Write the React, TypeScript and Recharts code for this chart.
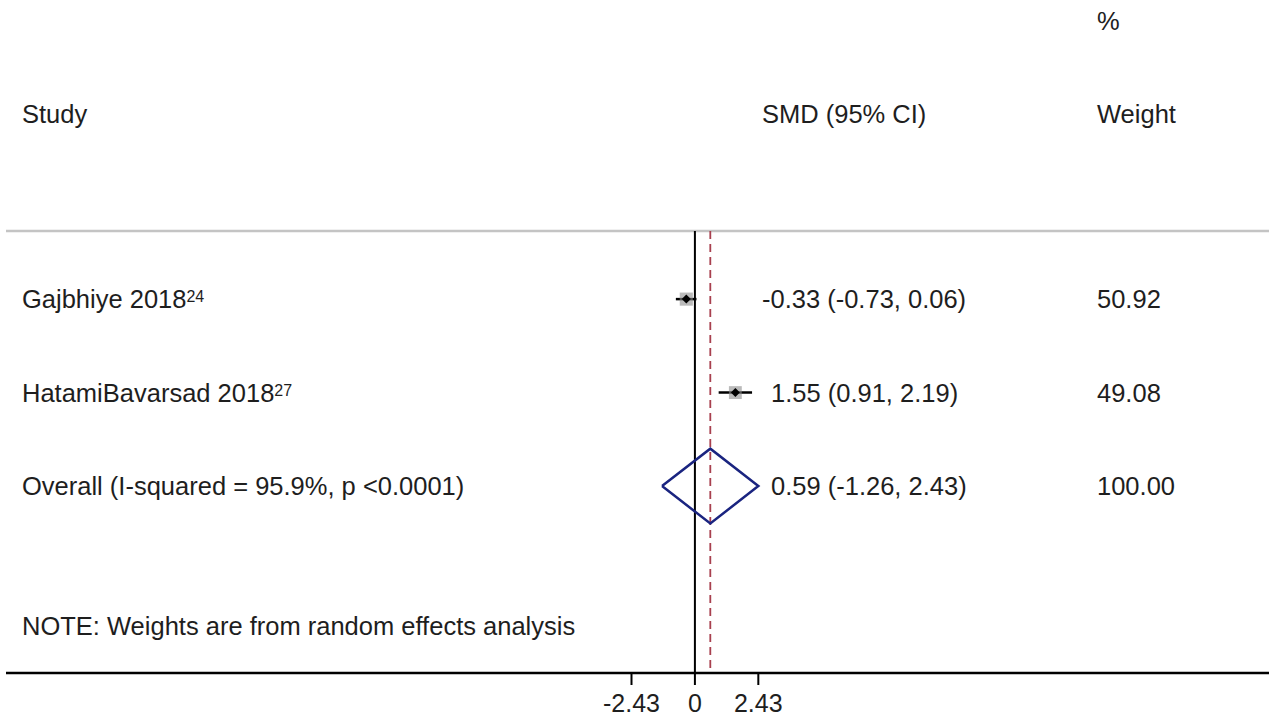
import { ReferenceLine, Scatter, ScatterChart, XAxis, YAxis } from 'recharts';

// Meta-analysis results (standardised mean difference, random effects)
const studies = ['Gajbhiye 2018', 'HatamiBavarsad 2018'];
const refs = ['24', '27'];
const smd = [-0.33, 1.55];
const ciLow = [-0.73, 0.91];
const ciHigh = [0.06, 2.19];
const weights = [50.92, 49.08];

const overallSmd = 0.59;
const overallLow = -1.26;
const overallHigh = 2.43;
const overallWeight = 100;
const iSquared = 95.9;
const pText = '<0.0001';

const axisTicks = [-2.43, 0, 2.43];

const FONT = '"Liberation Sans", Arial, sans-serif';
const INK = '#1e1e1e';
const FS = 25.5;

// row layout (in row units, top to bottom)
const HEADER_ROW = 0;
const SEP_ROW = 1.27;
const firstRow = 2;
const overallRow = firstRow + studies.length;
const noteRow = overallRow + 1.5;
const Y_DOMAIN: [number, number] = [-1.2, 6];

const fmt = (v: number) => v.toFixed(2);
const ciText = (e: number, lo: number, hi: number) => `${fmt(e)} (${fmt(lo)}, ${fmt(hi)})`;

type Row = {
  x: number;
  y: number;
  kind: 'header' | 'study' | 'overall' | 'note';
  label?: string;
  sup?: string;
  est?: number;
  ci?: string;
  weight?: string;
};

const tableRows: Row[] = [
  { x: 0, y: HEADER_ROW, kind: 'header' },
  ...studies.map((s, i) => ({
    x: 0,
    y: firstRow + i,
    kind: 'study' as const,
    label: s,
    sup: refs[i],
    est: smd[i],
    ci: ciText(smd[i], ciLow[i], ciHigh[i]),
    weight: fmt(weights[i]),
  })),
  {
    x: 0,
    y: overallRow,
    kind: 'overall',
    label: `Overall (I-squared = ${iSquared.toFixed(1)}%, p ${pText})`,
    est: overallSmd,
    ci: ciText(overallSmd, overallLow, overallHigh),
    weight: fmt(overallWeight),
  },
  { x: 0, y: noteRow, kind: 'note', label: 'NOTE: Weights are from random effects analysis' },
];

const points = studies.map((s, i) => ({ x: smd[i], y: firstRow + i, w: weights[i], name: s }));

const DIAMOND_H = 0.4;
const diamond = [
  { x: overallLow, y: overallRow },
  { x: overallSmd, y: overallRow - DIAMOND_H },
  { x: overallHigh, y: overallRow },
  { x: overallSmd, y: overallRow + DIAMOND_H },
  { x: overallLow, y: overallRow },
];

const COL_STUDY = 22;
const COL_CI = 771;
const COL_WEIGHT = 1097;

function TableRow(props: any) {
  const { cy, payload } = props as { cy: number; payload: Row };
  const common = { fontFamily: FONT, fontSize: FS, fill: INK, dominantBaseline: 'central' as const };
  if (payload.kind === 'header') {
    return (
      <g>
        <text x={COL_STUDY} y={cy + 2} {...common}>Study</text>
        <text x={COL_CI - 9} y={cy + 2} {...common}>SMD (95% CI)</text>
        <text x={COL_WEIGHT} y={cy - 91} {...common}>%</text>
        <text x={COL_WEIGHT} y={cy + 2} {...common}>Weight</text>
      </g>
    );
  }
  if (payload.kind === 'note') {
    return (
      <text x={COL_STUDY} y={cy} {...common}>{payload.label}</text>
    );
  }
  return (
    <g>
      <text x={COL_STUDY} y={cy} {...common}>
        {payload.label}
        {payload.sup && (
          <tspan fontSize={16} dy={-3}>{payload.sup}</tspan>
        )}
      </text>
      <text x={COL_CI - ((payload.est ?? 0) < 0 ? 9 : 0)} y={cy} {...common}>{payload.ci}</text>
      <text x={COL_WEIGHT} y={cy} {...common}>{payload.weight}</text>
    </g>
  );
}

function StudyMarker(props: any) {
  const { cx, cy, payload } = props;
  const side = 13 * Math.sqrt(payload.w / 50);
  const r = 4.5;
  return (
    <g>
      <rect x={cx - side / 2} y={cy - side / 2} width={side} height={side} fill="#8c8c8c" opacity={0.6} />
      <path d={`M${cx - r},${cy} L${cx},${cy - r} L${cx + r},${cy} L${cx},${cy + r} Z`} fill="#000" />
    </g>
  );
}

const Nothing = () => <g />;

export default function App() {
  return (
    <div style={{ position: 'absolute', left: 0, top: 0, background: '#fff' }}>
      <ScatterChart width={1269} height={720} margin={{ top: 0, right: 0, left: 6, bottom: 0 }}>
        <XAxis
          type="number"
          dataKey="x"
          domain={[-26.4, 22]}
          ticks={axisTicks}
          interval={0}
          height={47}
          allowDataOverflow
          axisLine={{ stroke: '#000', strokeWidth: 2.5 }}
          tickLine={{ stroke: '#000', strokeWidth: 2 }}
          tickSize={12}
          tickMargin={9}
          tick={{ fontFamily: FONT, fontSize: 25, fill: INK }}
        />
        <YAxis type="number" dataKey="y" domain={Y_DOMAIN} reversed hide allowDataOverflow />
        <ReferenceLine y={SEP_ROW} stroke="#c4c4c4" strokeWidth={2.5} />
        <ReferenceLine
          segment={[{ x: 0, y: SEP_ROW }, { x: 0, y: Y_DOMAIN[1] }]}
          stroke="#000"
          strokeWidth={2}
        />
        <ReferenceLine
          segment={[{ x: overallSmd, y: SEP_ROW }, { x: overallSmd, y: Y_DOMAIN[1] }]}
          stroke="#a8404f"
          strokeWidth={1.8}
          strokeDasharray="8 5"
        />
        {studies.map((s, i) => (
          <Scatter
            key={s}
            data={[
              { x: ciLow[i], y: firstRow + i },
              { x: ciHigh[i], y: firstRow + i },
            ]}
            line={{ stroke: '#000', strokeWidth: 2.5 }}
            lineType="joint"
            shape={Nothing}
            isAnimationActive={false}
          />
        ))}
        <Scatter data={points} shape={StudyMarker} isAnimationActive={false} />
        <Scatter
          data={diamond}
          line={{ stroke: '#1a2480', strokeWidth: 2.5 }}
          lineType="joint"
          shape={Nothing}
          isAnimationActive={false}
        />
        <Scatter data={tableRows} shape={TableRow} isAnimationActive={false} />
      </ScatterChart>
    </div>
  );
}
